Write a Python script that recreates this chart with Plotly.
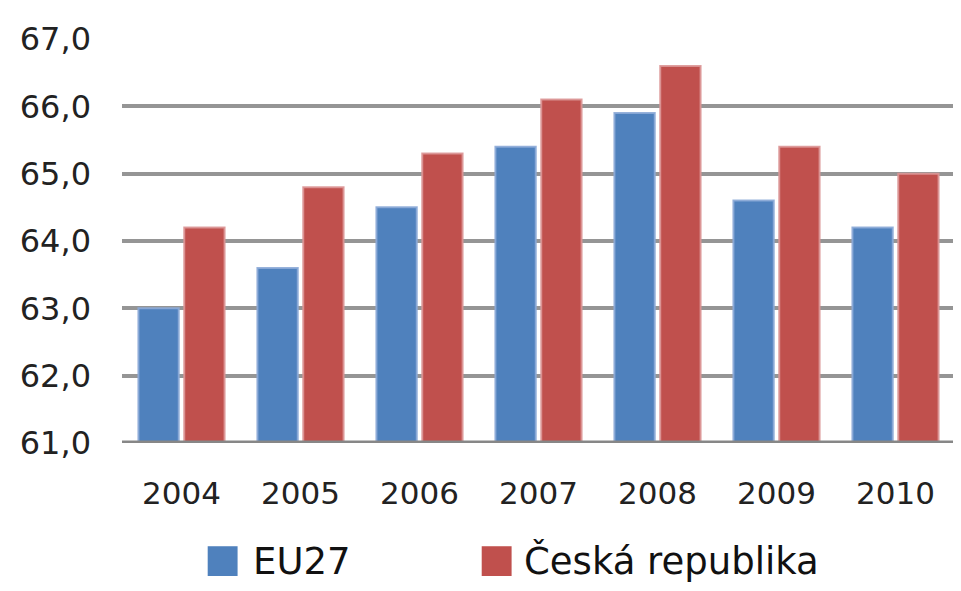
import plotly.graph_objects as go

years = ["2004", "2005", "2006", "2007", "2008", "2009", "2010"]
series_names = ["EU27", "Česká republika"]
eu27 = [63.0, 63.6, 64.5, 65.4, 65.9, 64.6, 64.2]
cz = [64.2, 64.8, 65.3, 66.1, 66.6, 65.4, 65.0]
y_ticks = [61, 62, 63, 64, 65, 66, 67]

colors = ["#4F81BD", "#C0504D"]
edge_colors = ["rgba(140,170,215,0.9)", "rgba(220,150,150,0.9)"]

W, H = 961, 591
OFF = 8  # page body margin
L, R, T, B = 119 - OFF, 6 + OFF, 36 - OFF, 148 + OFF
pw = W - L - R
ph = H - T - B

fig = go.Figure()
for name, vals, c, ec in zip(series_names, [eu27, cz], colors, edge_colors):
    fig.add_trace(go.Bar(x=years, y=vals, name=name, marker=dict(color=c, line=dict(color=ec, width=2)),
                         showlegend=False))

font = "DejaVu Sans"
fig.update_layout(
    width=W, height=H,
    margin=dict(l=L, r=R, t=T, b=B),
    plot_bgcolor="white", paper_bgcolor="white",
    barmode="group", bargap=0.23, bargroupgap=0.12,
    separators=", ",
    font=dict(family=font, color="#222222"),
    xaxis=dict(showgrid=False, showline=False, zeroline=False,
               tickfont=dict(size=31, family=font, color="#222222"),
               ticklabelstandoff=29, ticks=""),
    yaxis=dict(range=[61, 67], tickvals=y_ticks, tickformat=".1f",
               showgrid=True, gridcolor="#959595", gridwidth=4,
               zeroline=False, showline=False,
               tickfont=dict(size=32, family=font, color="#222222"),
               ticklabelstandoff=30, ticks=""),
)

# bottom axis line
fig.add_shape(type="line", xref="paper", yref="y", x0=0, x1=1, y0=61, y1=61,
              line=dict(color="#878787", width=5), layer="above")

# manual legend with large square swatches (positions in page pixels)
def px2x(px):
    return (px - OFF - L) / pw

def py2y(py):
    return (H - B - (py - OFF)) / ph

legend_items = [(205, 248), (480, 520)]
for (sx, tx), name, c in zip(legend_items, series_names, colors):
    fig.add_shape(type="rect", xref="paper", yref="paper",
                  x0=px2x(sx), x1=px2x(sx + 30), y0=py2y(577), y1=py2y(547),
                  fillcolor=c, line=dict(width=0))
    fig.add_annotation(xref="paper", yref="paper", x=px2x(tx), y=py2y(562),
                       text=name, showarrow=False, xanchor="left", yanchor="middle",
                       font=dict(size=37, family=font, color="#111111"))

fig.write_html("out.html")
